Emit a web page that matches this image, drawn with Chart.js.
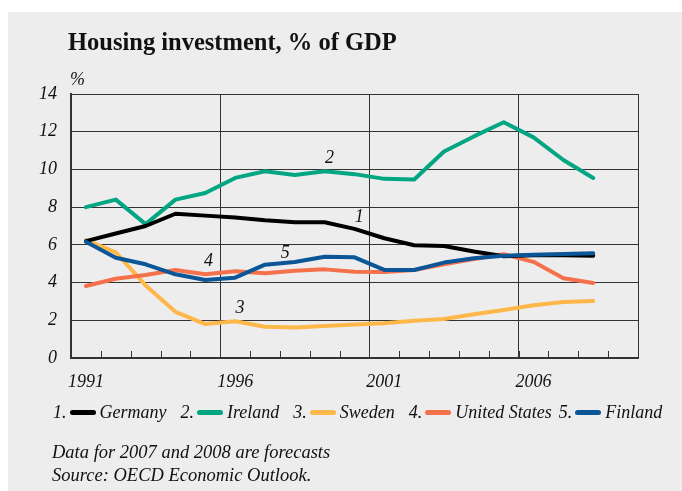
<!DOCTYPE html>
<html>
<head>
<meta charset="utf-8">
<script src="https://cdn.jsdelivr.net/npm/chart.js@4/dist/chart.umd.min.js"></script>
<style>
  body { margin: 0; width: 682px; height: 491px; overflow: hidden; background: #fff; font-family: 'Liberation Serif', serif; color: #111; }
  #panel { position: absolute; left: 8px; top: 12px; right: 0; bottom: 0; background: #ededed; }
  canvas { position: absolute; left: 0; top: 0; }
  .txt { position: absolute; line-height: 1; white-space: nowrap; }
  #title { left: 68px; top: 30px; font-size: 24.5px; font-weight: bold; }
  #unit { left: 70px; top: 70px; font-size: 18px; font-style: italic; }
  #legend { left: 53px; top: 403px; font-size: 18px; font-style: italic; display: flex; align-items: center; }
  #legend .item { display: flex; align-items: center; margin-right: 14px; }
  #legend .item:nth-child(4) { margin-right: 7px; }
  #legend .sw { display: inline-block; width: 26px; height: 5px; border-radius: 3px; margin: 0 4px 0 3px; }
  #note1 { left: 52px; top: 443px; font-size: 18.5px; font-style: italic; }
  #note2 { left: 52px; top: 466px; font-size: 18.5px; font-style: italic; }
</style>
</head>
<body>
<div id="panel"></div>
<canvas id="myChart" width="682" height="491"></canvas>
<div class="txt" id="title">Housing investment, % of GDP</div>
<div class="txt" id="unit">%</div>
<div class="txt" id="legend"></div>
<div class="txt" id="note1">Data for 2007 and 2008 are forecasts</div>
<div class="txt" id="note2">Source: OECD Economic Outlook.</div>
<script>
// categories (2009 is an empty slot at the right of the frame)
const years = ['1991', '1992', '1993', '1994', '1995', '1996', '1997', '1998', '1999', '2000',
               '2001', '2002', '2003', '2004', '2005', '2006', '2007', '2008', '2009'];
const yTicks = [0, 2, 4, 6, 8, 10, 12, 14];

// % of GDP
const germany = [6.2, 6.6, 7.0, 7.65, 7.55, 7.45, 7.3, 7.2, 7.2, 6.85, 6.35, 5.98, 5.94, 5.65, 5.4, 5.45, 5.45, 5.42];
const ireland = [8.0, 8.4, 7.1, 8.4, 8.75, 9.55, 9.9, 9.7, 9.9, 9.75, 9.5, 9.47, 10.95, 11.75, 12.5, 11.7, 10.5, 9.55];
const sweden = [6.25, 5.6, 3.85, 2.45, 1.8, 1.95, 1.66, 1.62, 1.7, 1.77, 1.84, 1.98, 2.07, 2.32, 2.55, 2.8, 2.97, 3.02];
const unitedStates = [3.82, 4.2, 4.4, 4.67, 4.44, 4.6, 4.5, 4.63, 4.7, 4.58, 4.56, 4.67, 4.97, 5.25, 5.5, 5.1, 4.23, 3.98];
const finland = [6.17, 5.32, 4.97, 4.44, 4.14, 4.26, 4.95, 5.09, 5.37, 5.34, 4.67, 4.67, 5.06, 5.29, 5.42, 5.48, 5.51, 5.55];

const seriesNames = ['Germany', 'Ireland', 'Sweden', 'United States', 'Finland'];
const seriesData = [germany, ireland, sweden, unitedStates, finland];

// number tags written next to the lines (category index, value)
const tagText = ['1', '2', '3', '4', '5'];
const tagAt = [[9.16, 7.46], [8.16, 10.59], [5.16, 2.63], [4.11, 5.13], [6.68, 5.57]];

const colors = ['#000000', '#03a683', '#feb84a', '#f4714c', '#0b5697'];
const drawOrder = [1, 4, 3, 2, 0]; // finland on top
const ink = '#333';
const serif = "'Liberation Serif', serif";

// legend
const legendEl = document.getElementById('legend');
seriesNames.forEach((name, i) => {
  const item = document.createElement('span');
  item.className = 'item';
  item.innerHTML = (i + 1) + '.<span class="sw" style="background:' + colors[i] + '"></span>' + name;
  legendEl.appendChild(item);
});

const extras = {
  id: 'extras',
  beforeDatasetsDraw(chart) {
    const {ctx, chartArea, scales: {x}} = chart;
    ctx.save();
    ctx.strokeStyle = ink;
    ctx.lineWidth = 1;
    for (let i = 0; i <= years.length; i++) {
      const px = Math.round(x.getPixelForValue(i - 0.5)) + 0.5;
      ctx.beginPath();
      ctx.moveTo(px, chartArea.bottom);
      ctx.lineTo(px, chartArea.bottom - 7);
      ctx.stroke();
    }
    ctx.restore();
  },
  afterDatasetsDraw(chart) {
    const {ctx, scales: {x, y}} = chart;
    ctx.save();
    ctx.font = 'italic 18px ' + serif;
    ctx.fillStyle = '#111';
    ctx.textAlign = 'center';
    ctx.textBaseline = 'middle';
    tagText.forEach((t, k) => {
      ctx.fillText(t, x.getPixelForValue(tagAt[k][0]), y.getPixelForValue(tagAt[k][1]));
    });
    ctx.restore();
  }
};

const config = {
  type: 'line',
  data: {
    labels: years,
    datasets: seriesData.map((d, i) => ({
      label: seriesNames[i],
      data: d,
      borderColor: colors[i],
      backgroundColor: colors[i],
      borderWidth: 4,
      pointRadius: 0,
      tension: 0,
      borderJoinStyle: 'round',
      borderCapStyle: 'round',
      order: drawOrder[i]
    }))
  },
  options: {
    responsive: false,
    animation: false,
    devicePixelRatio: 1,
    events: [],
    layout: { padding: { left: 0, right: 44, top: 94, bottom: 93 } },
    plugins: { legend: false, tooltip: { enabled: false } },
    scales: {
      x: {
        type: 'category',
        offset: true,
        afterFit(s) { s.height = 40; },
        grid: {
          offset: true,
          drawTicks: false,
          lineWidth: 1,
          color: (c) => (c.index === undefined || c.index % 5 === 0) ? ink : 'rgba(0,0,0,0)'
        },
        border: { display: true, color: ink, width: 2 },
        ticks: {
          autoSkip: false,
          maxRotation: 0,
          padding: 13,
          color: '#111',
          font: { family: serif, size: 18, style: 'italic' },
          callback: (v, i) => (Number(years[i]) % 5 === 1 ? years[i] : '')
        }
      },
      y: {
        min: 0,
        max: 14,
        afterFit(s) { s.width = 71; },
        afterBuildTicks(s) { s.ticks = yTicks.map(v => ({value: v})); },
        grid: { drawTicks: false, color: ink, lineWidth: 1 },
        border: { display: true, color: ink, width: 2 },
        ticks: {
          padding: 14,
          color: '#111',
          font: { family: serif, size: 18, style: 'italic' }
        }
      }
    }
  },
  plugins: [extras]
};

const myChart = new Chart(document.getElementById('myChart'), config);
</script>
</body>
</html>
